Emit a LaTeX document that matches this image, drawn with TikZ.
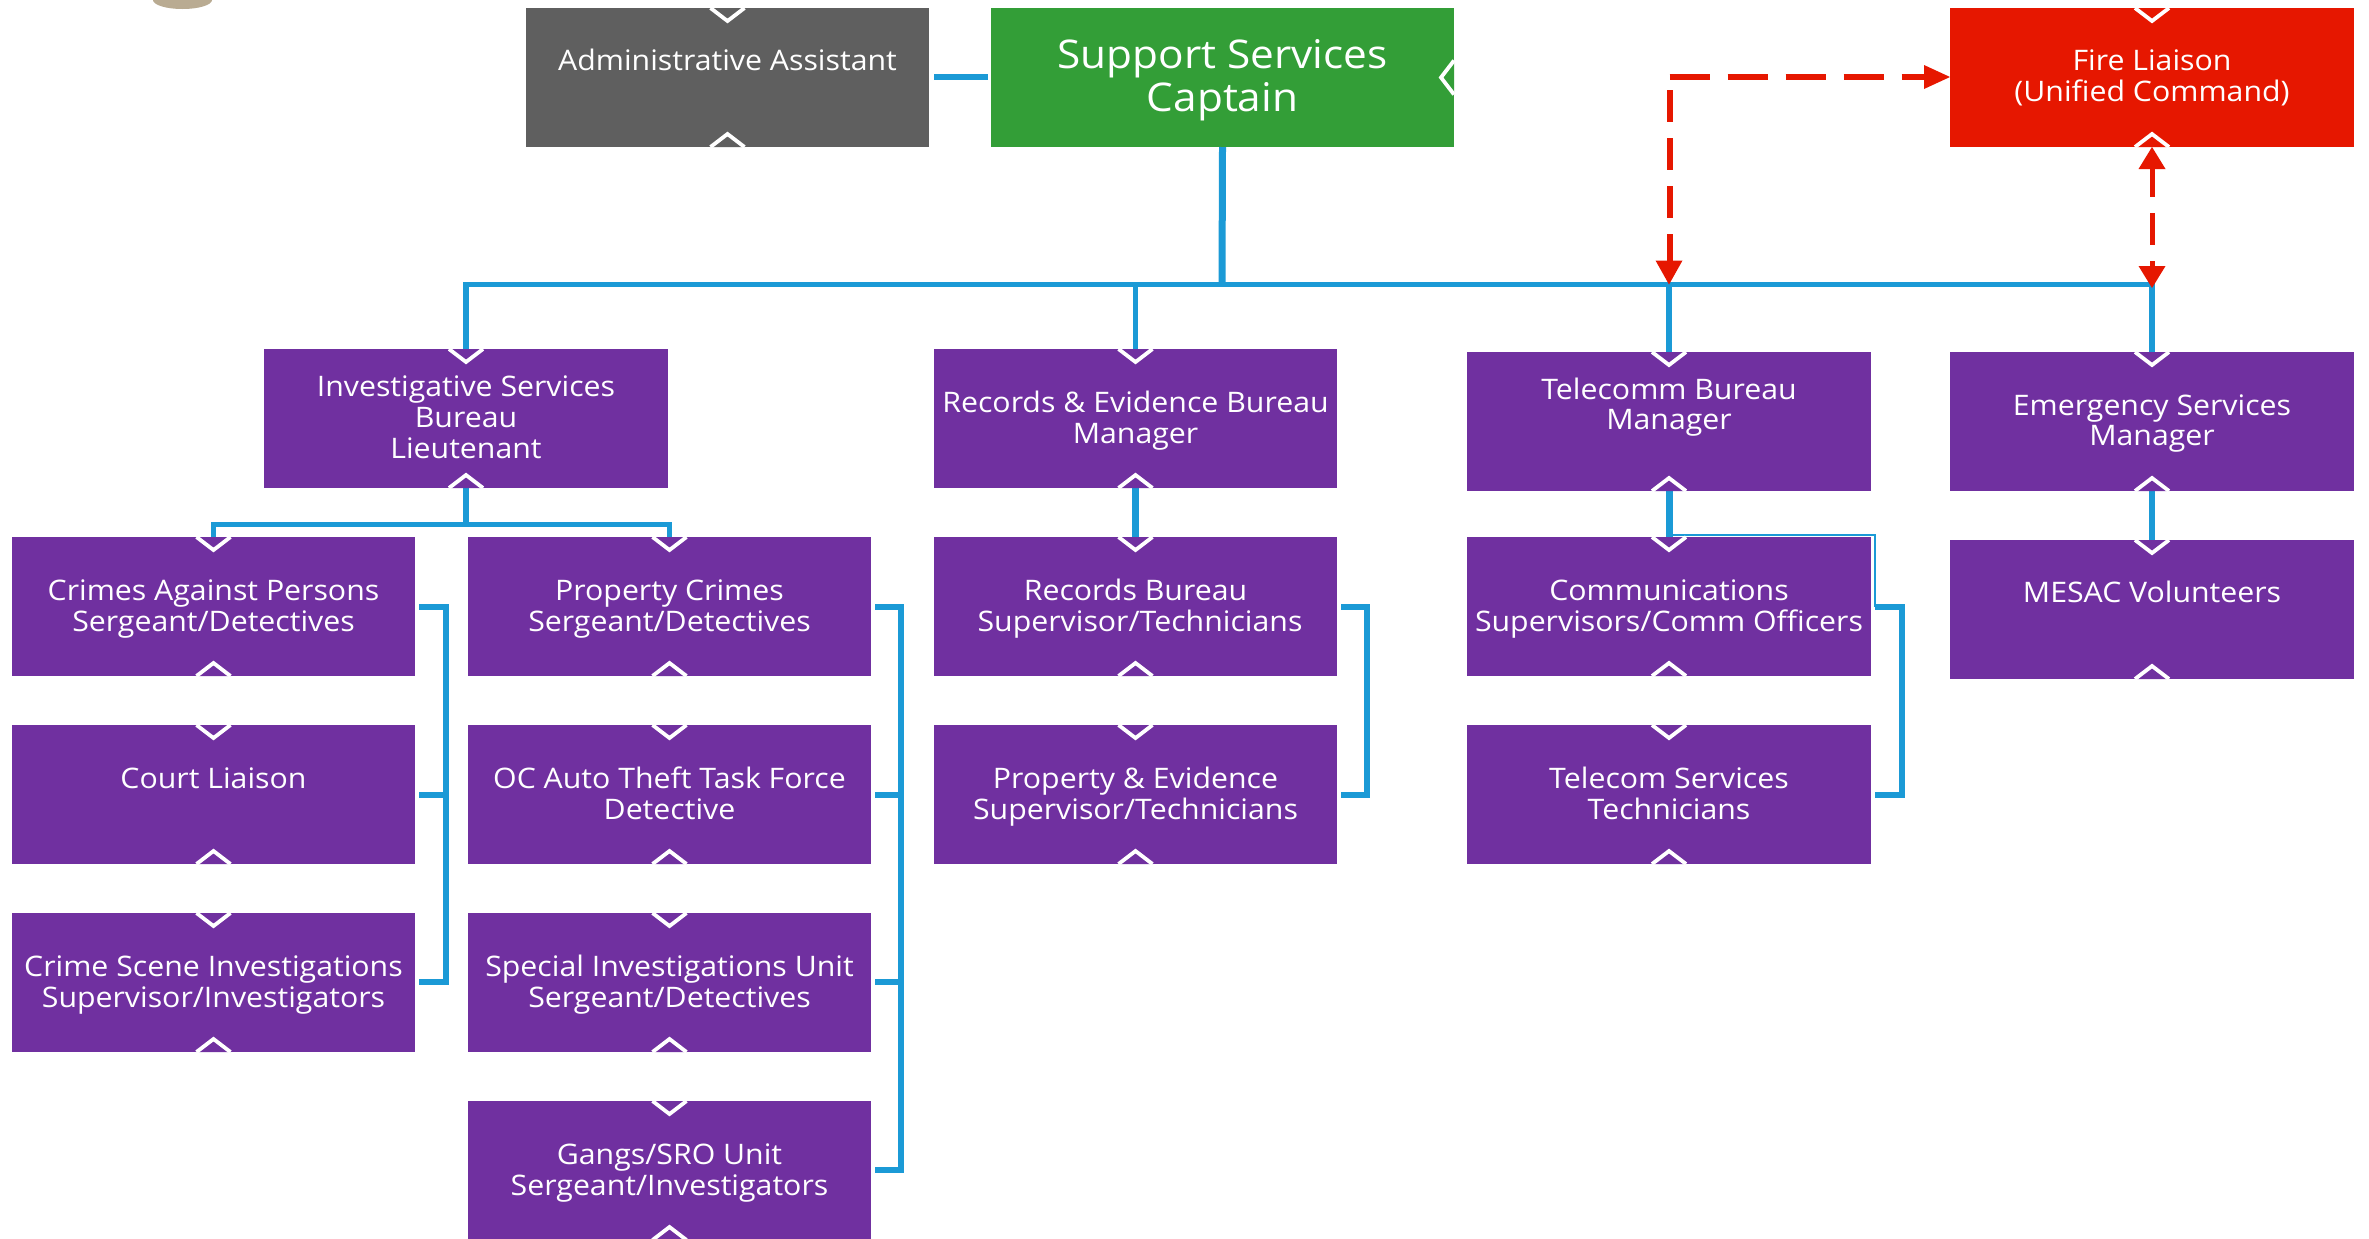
\documentclass[tikz,border=0pt]{standalone}
\usepackage{fontspec}
\setmainfont{Open Sans}[FakeStretch=1.07]
\usetikzlibrary{arrows.meta,calc}
\definecolor{cpurple}{HTML}{7030A0}
\definecolor{cgreen}{HTML}{339E37}
\definecolor{cred}{HTML}{E61700}
\definecolor{cgray}{HTML}{5F5F5F}
\definecolor{cblue}{HTML}{1B9AD6}
\definecolor{cseal}{HTML}{B9AB92}
\newdimen\px \px=.02cm
\tikzset{
  x=.02cm,y=-.02cm,
  orgbox/.style={rectangle,anchor=north west,inner sep=0,outer sep=0,fill=#1},
  orgtext/.style={text=white,align=center,font=\fontsize{16.1}{17.6}\selectfont,inner sep=0},
  bigtext/.style={orgtext,font=\fontsize{22.5}{25}\selectfont},
  chev/.style={draw=white,line width=3.8\px,fill=#1,line join=miter},
  link/.style={draw=cblue,line width=5.5\px},
  thicklink/.style={draw=cblue,line width=7\px},
  thinlink/.style={draw=cblue,line width=2.2\px},
}
% name x y w h colour text-y text
\newcommand{\orgnode}[9][orgtext]{%
  \node[orgbox=#7,minimum width=#5\px,minimum height=#6\px] (#2) at (#3,#4) {};
  \node[#1] (#2t) at ($(#2.north)+(0,#8)$) {\rule{0pt}{.77em}#9\rule[-.23em]{0pt}{.23em}};
}
\newcommand{\chevT}[2]{\draw[chev=#2] ([xshift=-17\px]#1.north) -- ([yshift=-13\px]#1.north) -- ([xshift=17\px]#1.north);}
\newcommand{\chevB}[2]{\draw[chev=#2] ([xshift=-17\px]#1.south) -- ([yshift=13\px]#1.south) -- ([xshift=17\px]#1.south);}
\begin{document}
\begin{tikzpicture}
\useasboundingbox (0,0) rectangle (2369,1238);
\clip (0,0) rectangle (2369,1238);
\fill[white] (0,0) rectangle (2369,1238);
% seal fragment
\fill[cseal] (153,0) arc[start angle=180,end angle=360,x radius=29.5,y radius=-9] -- cycle;
% boxes
\orgnode{admin}{526}{8}{403}{139}{cgray}{55}{Administrative Assistant}
\orgnode[bigtext]{captain}{991}{8}{463}{139}{cgreen}{71.5}{Support Services\\Captain}
\orgnode{fire}{1950}{8}{404}{139}{cred}{70.5}{Fire Liaison\\(Unified Command)}
\orgnode{inv}{264}{349}{404}{139}{cpurple}{71}{Investigative Services\\Bureau\\Lieutenant}
\orgnode{rec}{934}{349}{403}{139}{cpurple}{71.5}{Records \& Evidence Bureau\\Manager}
\orgnode{tel}{1467}{352}{404}{139}{cpurple}{55}{Telecomm Bureau\\Manager}
\orgnode{emg}{1950}{352}{404}{139}{cpurple}{71}{Emergency Services\\Manager}
\orgnode{crimes}{12}{537}{403}{139}{cpurple}{71.5}{Crimes Against Persons\\Sergeant/Detectives}
\orgnode{court}{12}{725}{403}{139}{cpurple}{56}{Court Liaison}
\orgnode{csi}{12}{913}{403}{139}{cpurple}{71.5}{Crime Scene Investigations\\Supervisor/Investigators}
\orgnode{prop}{468}{537}{403}{139}{cpurple}{71.5}{Property Crimes\\Sergeant/Detectives}
\orgnode{auto}{468}{725}{403}{139}{cpurple}{71.5}{OC Auto Theft Task Force\\Detective}
\orgnode{siu}{468}{913}{403}{139}{cpurple}{71.5}{Special Investigations Unit\\Sergeant/Detectives}
\orgnode{gang}{468}{1101}{403}{139}{cpurple}{71.5}{Gangs/SRO Unit\\Sergeant/Investigators}
\orgnode{rb}{934}{537}{403}{139}{cpurple}{71.5}{Records Bureau\\\hspace*{9\px}Supervisor/Technicians}
\orgnode{pe}{934}{725}{403}{139}{cpurple}{71.5}{Property \& Evidence\\Supervisor/Technicians}
\orgnode{comm}{1467}{537}{404}{139}{cpurple}{71.5}{Communications\\Supervisors/Comm Officers}
\orgnode{tech}{1467}{725}{404}{139}{cpurple}{71.5}{Telecom Services\\Technicians}
\orgnode{mesac}{1950}{540}{404}{139}{cpurple}{55}{MESAC Volunteers}
% trunk
\coordinate (bus) at (1222,284.5);
\draw[thicklink] (captain.south) -- (bus);
\draw[link] (inv.north) |- (bus) -| (emg.north);
\draw[link] (rec.north) -- (rec.north |- bus);
\draw[link] (tel.north) -- (tel.north |- bus);
\draw[link] ($(admin.east |- 0,77)+(5,0)$) -- ($(captain.west |- 0,77)+(-3,0)$);
% investigative
\coordinate (invbus) at (466,524.5);
\draw[link] (inv.south) -- (invbus);
\draw[link] (crimes.north) |- (invbus) -| (prop.north);
% vertical links
\draw[thicklink] (rec.south) -- (rb.north);
\draw[thicklink] (tel.south) -- (comm.north);
\draw[link] (emg.south) -- (mesac.north);
% brackets
\coordinate (b1) at (446,0); \coordinate (b2) at (901,0);
\coordinate (b3) at (1367,0); \coordinate (b4) at (1902,0);
\draw[link] ($(crimes.east |- 0,607)+(4,0)$) -| (b1 |- 0,982) -- ($(csi.east |- 0,982)+(4,0)$);
\draw[link] ($(court.east |- 0,795)+(4,0)$) -- (b1 |- 0,795);
\draw[link] ($(prop.east |- 0,607)+(4,0)$) -| (b2 |- 0,1170) -- ($(gang.east |- 0,1170)+(4,0)$);
\draw[link] ($(auto.east |- 0,795)+(4,0)$) -- (b2 |- 0,795);
\draw[link] ($(siu.east |- 0,982)+(4,0)$) -- (b2 |- 0,982);
\draw[link] ($(rb.east |- 0,607)+(4,0)$) -| (b3 |- 0,795) -- ($(pe.east |- 0,795)+(4,0)$);
\draw[link] ($(comm.east |- 0,607)+(4,0)$) -| (b4 |- 0,795) -- ($(tech.east |- 0,795)+(4,0)$);
\draw[thinlink] (1669,535) -| (1875,607);
% chevrons
\foreach \n in {inv,rec,tel,emg,crimes,court,csi,prop,auto,siu,gang,rb,pe,comm,tech,mesac}{\chevT{\n}{cpurple}\chevB{\n}{cpurple}}
\chevT{admin}{cgray}\chevB{admin}{cgray}
\chevT{fire}{cred}\chevB{fire}{cred}
\draw[chev=cgreen] ([yshift=-17\px]captain.east) -- ([xshift=-13\px]captain.east) -- ([yshift=17\px]captain.east);
% red links
\coordinate (rc) at (1669.5,77);
\draw[draw=cred,line width=6\px,dash pattern=on 40\px off 18\px,line cap=butt] (rc) -- ++(255,0);
\fill[cred] (fire.west |- rc) -- ++(-26,-12) -- ++(0,24) -- cycle;
\draw[draw=cred,line width=6\px,dash pattern=on 32\px off 16\px] (rc |- 0,90) -- (rc |- 0,265);
\fill[cred] (tel.north |- bus) -- ++(-13.5,-24) -- ++(27,0) -- cycle;
\fill[cred] (fire.south) -- ++(-13.5,22) -- ++(27,0) -- cycle;
\fill[cred] (2152,288) -- ++(-13.5,-22) -- ++(27,0) -- cycle;
\draw[draw=cred,line width=5\px,dash pattern=on 32\px off 16\px] (2152,165) -- (2152,270);
\end{tikzpicture}
\end{document}
